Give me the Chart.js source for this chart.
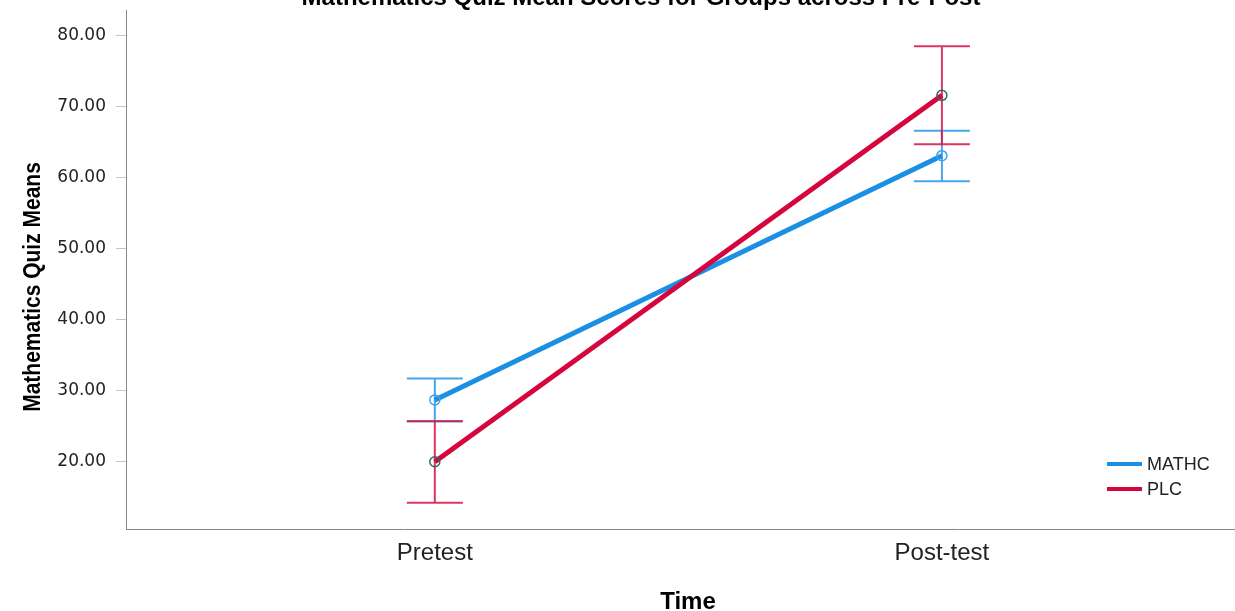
<!DOCTYPE html>
<html>
<head>
<meta charset="utf-8">
<script src="https://cdn.jsdelivr.net/npm/chart.js@4"></script>
<style>
  body { margin: 0; background: #fff; }
  #wrap { width: 1235px; height: 611px; position: relative; }
</style>
</head>
<body>
<div id="wrap"><canvas id="grafico"></canvas></div>
<script>
const categories = ["Pretest", "Post-test"];
const groups = ["MATHC", "PLC"];
const mathcMeans = [28.7, 63.1];
const mathcLower = [25.7, 59.5];
const mathcUpper = [31.7, 66.6];
const plcMeans = [20.0, 71.6];
const plcLower = [14.2, 64.7];
const plcUpper = [25.7, 78.5];
const yTicks = [20, 30, 40, 50, 60, 70, 80];

const lineColors = ["#1a8fe4", "#d5063d"];
const barColors = ["rgba(40,150,230,0.85)", "rgba(214,20,70,0.85)"];
const pointColors = ["#3ea2ea", "#2f6b66"];
const lowers = [mathcLower, plcLower];
const uppers = [mathcUpper, plcUpper];

// barras de erro + titulos + legenda desenhados a mao
const extras = {
  id: "extras",
  beforeDatasetsDraw(chart) {
    const ctx = chart.ctx;
    const x = chart.scales.x, y = chart.scales.y;
    ctx.save();
    ctx.lineWidth = 2;
    lowers.forEach((low, d) => {
      ctx.strokeStyle = barColors[d];
      low.forEach((v, i) => {
        const px = x.getPixelForValue(i);
        const pLow = y.getPixelForValue(v);
        const pHigh = y.getPixelForValue(uppers[d][i]);
        ctx.beginPath();
        ctx.moveTo(px, pLow); ctx.lineTo(px, pHigh);
        ctx.moveTo(px - 28, pLow); ctx.lineTo(px + 28, pLow);
        ctx.moveTo(px - 28, pHigh); ctx.lineTo(px + 28, pHigh);
        ctx.stroke();
      });
    });
    ctx.restore();
  },
  afterDraw(chart) {
    const ctx = chart.ctx;
    ctx.save();
    ctx.fillStyle = "#000";
    ctx.textAlign = "center";
    ctx.textBaseline = "alphabetic";
    ctx.font = "bold 24px 'Liberation Sans', Arial, sans-serif";
    ctx.fillText("Mathematics Quiz Mean Scores for Groups across Pre-Post", 641, 5);
    ctx.fillText("Time", 688, 609);

    ctx.save();
    ctx.translate(33, 287);
    ctx.rotate(-Math.PI / 2);
    ctx.scale(1, 1.15);
    ctx.textBaseline = "middle";
    ctx.font = "bold 21px 'Liberation Sans', Arial, sans-serif";
    ctx.fillText("Mathematics Quiz Means", 0, 0);
    ctx.restore();

    ctx.textAlign = "left";
    ctx.textBaseline = "middle";
    ctx.font = "18px 'Liberation Sans', Arial, sans-serif";
    groups.forEach((g, i) => {
      const ly = 464 + i * 25;
      ctx.strokeStyle = lineColors[i];
      ctx.lineWidth = 4;
      ctx.beginPath();
      ctx.moveTo(1107, ly); ctx.lineTo(1142, ly);
      ctx.stroke();
      ctx.fillStyle = "#222";
      ctx.fillText(g, 1147, ly + 1);
    });
    ctx.restore();
  }
};

function pontos(arr) {
  return arr.map((v, i) => ({ x: i, y: v }));
}

new Chart(document.getElementById("grafico"), {
  type: "line",
  data: {
    datasets: [
      {
        label: groups[0],
        data: pontos(mathcMeans),
        borderColor: lineColors[0],
        borderWidth: 5,
        pointRadius: 5,
        pointBorderWidth: 1.5,
        pointBorderColor: pointColors[0],
        pointBackgroundColor: "rgba(255,255,255,0)",
        order: 2
      },
      {
        label: groups[1],
        data: pontos(plcMeans),
        borderColor: lineColors[1],
        borderWidth: 5,
        pointRadius: 5,
        pointBorderWidth: 1.5,
        pointBorderColor: pointColors[1],
        pointBackgroundColor: "rgba(255,255,255,0)",
        order: 1
      }
    ]
  },
  options: {
    responsive: true,
    maintainAspectRatio: false,
    animation: false,
    layout: { autoPadding: false, padding: { top: 10, left: 0, right: 0, bottom: 0 } },
    plugins: {
      legend: { display: false },
      title: { display: false },
      tooltip: { enabled: false }
    },
    scales: {
      x: {
        type: "linear",
        min: -0.609,
        max: 1.578,
        afterBuildTicks: s => { s.ticks = categories.map((c, i) => ({ value: i })); },
        afterFit: s => { s.height = 82; s.paddingLeft = 0; s.paddingRight = 0; },
        ticks: {
          callback: v => categories[v],
          color: "#222",
          padding: 10,
          maxRotation: 0,
          font: { family: "'Liberation Sans', Arial, sans-serif", size: 24 }
        },
        grid: { display: false, drawTicks: false },
        border: { display: true, color: "#888", width: 1 }
      },
      y: {
        min: 10.52,
        max: 83.62,
        afterBuildTicks: s => { s.ticks = yTicks.map(v => ({ value: v })); },
        afterFit: s => { s.width = 126; s.paddingTop = 0; s.paddingBottom = 0; },
        ticks: {
          callback: v => Number(v).toFixed(2),
          color: "#222",
          padding: 10,
          font: { family: "'DejaVu Sans', sans-serif", size: 17 }
        },
        grid: { drawOnChartArea: false, drawTicks: true, tickLength: 10, color: "#c4c4c4" },
        border: { display: true, color: "#888", width: 1 }
      }
    }
  },
  plugins: [extras]
});
</script>
</body>
</html>
